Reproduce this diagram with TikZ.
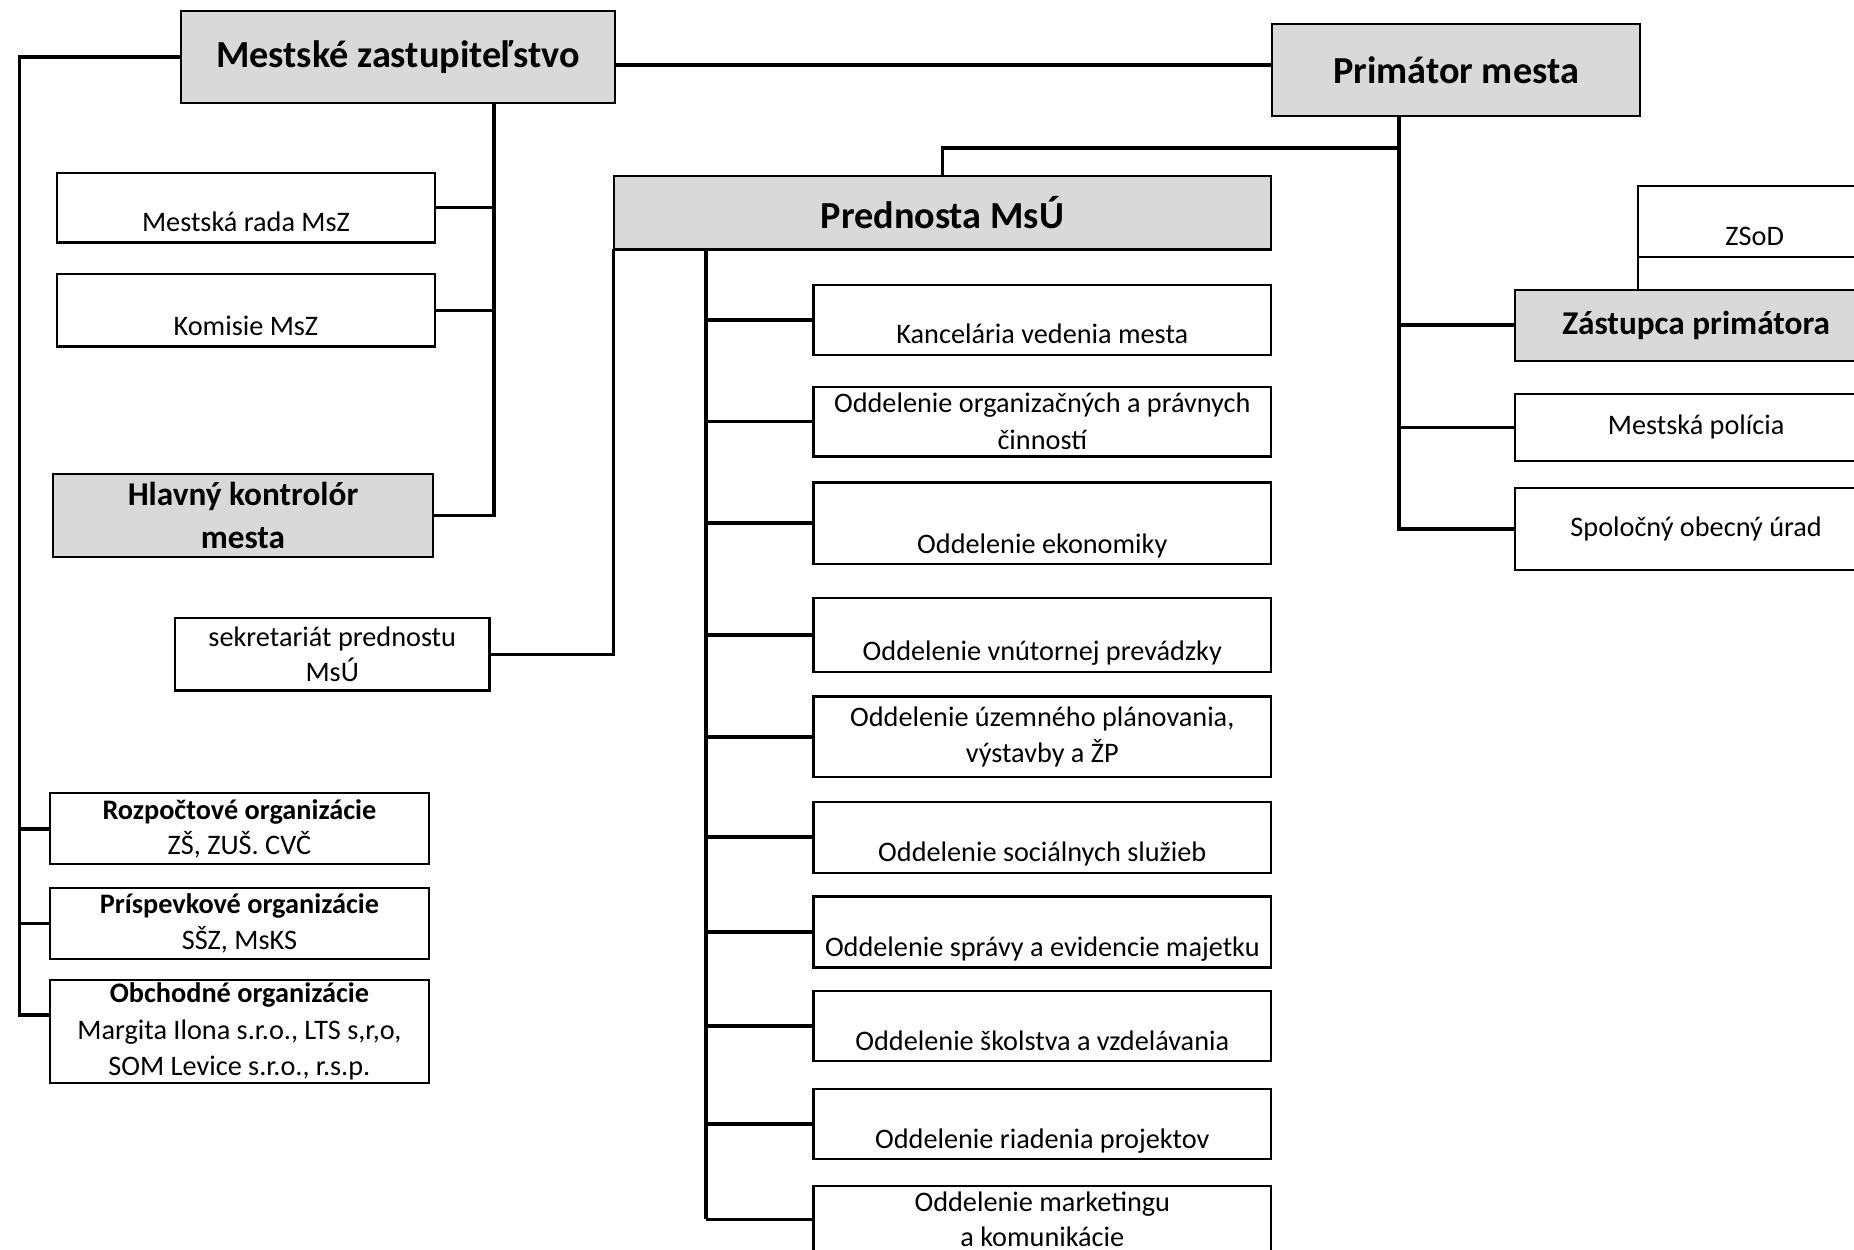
\documentclass[tikz,border=0pt]{standalone}
\usepackage{fontspec}
\setmainfont{Carlito}
\usepackage{xcolor}
\usetikzlibrary{positioning,calc}

\begin{document}
\begin{tikzpicture}[
  x=0.025cm, y=-0.025cm,
  font=\fontsize{17}{22}\selectfont,
  blk/.style={draw,line width=1.3pt,inner sep=0pt,outer sep=0pt,align=center},
  hd/.style={blk,fill=black!15,font=\fontsize{23}{28}\selectfont\bfseries},
  wh/.style 2 args={minimum width=#1*0.025cm,minimum height=#2*0.025cm},
  low/.style={text height=#1,text depth=6.5pt},
  conn/.style={line width=2.2pt}]
  \useasboundingbox (0,0) rectangle (1568,1057);
  \clip (0,0) rectangle (1568,1057);
  % top level
  \node[hd,wh={367}{78}] (mz) at (336.5,48) {Mestské zastupiteľstvo};
  \node[hd,wh={311}{78}] (prim) at (1231.5,59) {Primátor mesta};
  \node[hd,wh={556}{62}] (pred) at (797,180) {Prednosta MsÚ};
  % under the council
  \node[blk,wh={320}{0},low=35.5pt] (rada) at (208,175.5) {Mestská rada MsZ};
  \node[blk,wh={320}{0},low=36.9pt,below=0.675cm of rada] (kom) {Komisie MsZ};
  \node[hd,wh={321}{70},font=\fontsize{20}{25.6}\selectfont\bfseries] (hk) at (205.5,436)
    {Hlavný kontrolór\\mesta};
  \node[blk,wh={266}{61},font=\fontsize{17}{21.3}\selectfont] (sek) at (281,553.5)
    {sekretariát prednostu\\MsÚ};
  \node[blk,wh={321}{60},font=\fontsize{17}{21.3}\selectfont] (roz) at (202.5,701)
    {\textbf{Rozpočtové organizácie}\\ZŠ, ZUŠ. CVČ};
  \node[blk,wh={321}{60},font=\fontsize{17}{21.3}\selectfont,below=0.5cm of roz] (pri)
    {\textbf{Príspevkové organizácie}\\SŠZ, MsKS};
  \node[blk,wh={320}{87},below=0.45cm of pri] (obch)
    {\textbf{Obchodné organizácie}\\Margita Ilona s.r.o., LTS s,r,o,\\SOM Levice s.r.o., r.s.p.};
  % under the mayor
  \node[hd,wh={307}{60},font=\fontsize{20}{24}\selectfont\bfseries] (zast) at (1434.5,275)
    {Zástupca primátora};
  \node[blk,wh={198}{0},low=36.2pt] (zsod) at (1484,187) {ZSoD};
  \node[blk,wh={307}{57},below=0.7cm of zast] (pol) {Mestská polícia};
  \node[blk,wh={307}{69},below=0.575cm of pol] (spol) {Spoločný obecný úrad};
  % departments
  \node[blk,wh={387}{0},low=35.5pt] (d1) at (881.5,270.5) {Kancelária vedenia mesta};
  \node[blk,wh={387}{59},below=0.675cm of d1] (d2) {Oddelenie organizačných a právnych\\činností};
  \node[blk,wh={387}{0},low=42.6pt,below=0.55cm of d2] (d3) {Oddelenie ekonomiky};
  \node[blk,wh={387}{0},low=37.6pt,below=0.725cm of d3] (d4) {Oddelenie vnútornej prevádzky};
  \node[blk,wh={387}{68},below=0.525cm of d4] (d5) {Oddelenie územného plánovania,\\výstavby a ŽP};
  \node[blk,wh={387}{0},low=36.2pt,below=0.525cm of d5] (d6) {Oddelenie sociálnych služieb};
  \node[blk,wh={387}{0},low=36.2pt,below=0.5cm of d6] (d7) {Oddelenie správy a evidencie majetku};
  \node[blk,wh={387}{0},low=35.5pt,below=0.5cm of d7] (d8) {Oddelenie školstva a vzdelávania};
  \node[blk,wh={387}{0},low=35.5pt,below=0.6cm of d8] (d9) {Oddelenie riadenia projektov};
  \node[blk,wh={387}{56},font=\fontsize{17}{21}\selectfont,below=0.575cm of d9] (d10)
    {Oddelenie marketingu\\a komunikácie};
  % connectors
  \coordinate (lb) at (15,0);
  \coordinate (mb) at (418,0);
  \coordinate (pb) at (1183,0);
  \coordinate (qb) at (597,0);
  \coordinate (ml) at (0,55);
  \coordinate (pl) at (0,125);
  \draw[conn] (mz.west) -| ($(obch.west)+(-26,-14)$) -- ($(obch.west)+(0,-14)$);
  \foreach \n in {roz,pri} { \draw[conn] (lb |- \n.west) -- (\n.west); }
  \draw[conn] (mz.south -| mb) -- (mb |- hk.east) -- (hk.east);
  \foreach \n in {rada,kom} { \draw[conn] (mb |- \n.east) -- (\n.east); }
  \draw[conn] (mz.east |- ml) -- (prim.west |- ml);
  \draw[conn] (prim.south -| pb) -- (pb |- spol.west) -- (spol.west);
  \foreach \n in {zast,pol} { \draw[conn] (pb |- \n.west) -- (\n.west); }
  \draw[conn] (pb |- pl) -| (pred.north);
  \draw[line width=1.3pt] (zsod.south west) -- (zsod.south west |- zast.north);
  \draw[conn] (pred.south west) |- (sek.east);
  \draw[conn] (pred.south -| qb) -- (qb |- d10.west);
  \foreach \n in {d1,d2,d3,d4,d5,d6,d7,d8,d9,d10} { \draw[conn] (qb |- \n.west) -- (\n.west); }
\end{tikzpicture}
\end{document}
